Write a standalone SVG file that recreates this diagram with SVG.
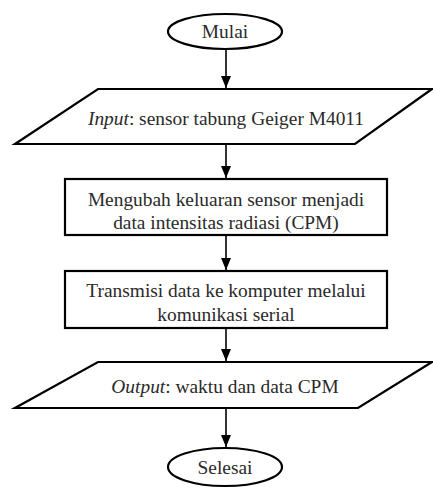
<svg xmlns="http://www.w3.org/2000/svg" width="433" height="488" viewBox="0 0 433 488">
<defs>
<marker id="ah" markerWidth="12" markerHeight="10" refX="12" refY="5" orient="auto" markerUnits="userSpaceOnUse" viewBox="0 0 12 10">
<path d="M0,0 L12,5 L0,10 Z" fill="#000"/>
</marker>
</defs>
<style>
.s{fill:#fff;stroke:#000;stroke-width:2.2}
.t{font-family:"Liberation Serif","Times New Roman",serif;font-size:19.4px;fill:#2a2a2a;text-anchor:middle}
.c{stroke:#000;stroke-width:1.6;fill:none}
</style>
<rect width="433" height="488" fill="#fff"/>
<g id="connectors">
<line class="c" x1="226" y1="49" x2="226" y2="88" marker-end="url(#ah)"/>
<line class="c" x1="226" y1="144" x2="226" y2="178" marker-end="url(#ah)"/>
<line class="c" x1="226" y1="235" x2="226" y2="270" marker-end="url(#ah)"/>
<line class="c" x1="226" y1="328" x2="226" y2="361" marker-end="url(#ah)"/>
<line class="c" x1="226" y1="408" x2="226" y2="447" marker-end="url(#ah)"/>
</g>
<g id="mulai">
<ellipse class="s" cx="225" cy="31.5" rx="57" ry="17.5"/>
<text class="t" x="225" y="38">Mulai</text>
</g>
<g id="input">
<polygon class="s" points="98,89 432,89 355,144 15,144"/>
<text class="t" x="226" y="125"><tspan font-style="italic">Input</tspan>: sensor tabung Geiger M4011</text>
</g>
<g id="proses1">
<rect class="s" x="65" y="179" width="322" height="56"/>
<text class="t" x="226" y="206">Mengubah keluaran sensor menjadi</text>
<text class="t" x="226" y="229">data intensitas radiasi (CPM)</text>
</g>
<g id="proses2">
<rect class="s" x="65" y="271" width="322" height="57"/>
<text class="t" x="226" y="297">Transmisi data ke komputer melalui</text>
<text class="t" x="226" y="321">komunikasi serial</text>
</g>
<g id="output">
<polygon class="s" points="98,362 432,362 358,408 15,408"/>
<text class="t" x="225" y="393"><tspan font-style="italic">Output</tspan>: waktu dan data CPM</text>
</g>
<g id="selesai">
<ellipse class="s" cx="225" cy="467" rx="57" ry="19"/>
<text class="t" x="225" y="474">Selesai</text>
</g>
</svg>
